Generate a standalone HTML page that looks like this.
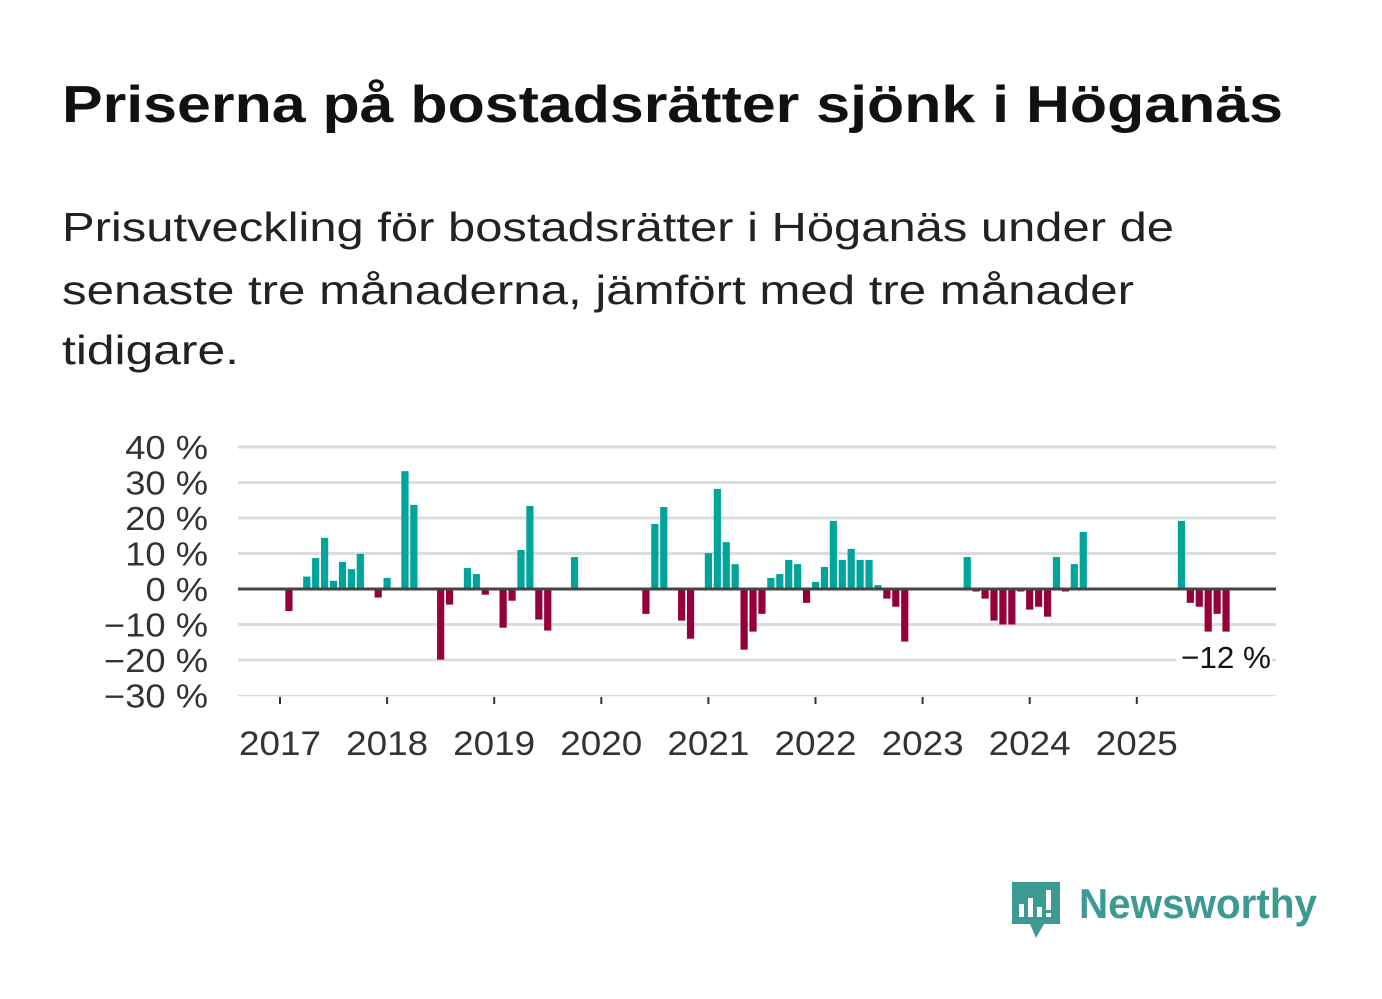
<!DOCTYPE html>
<html><head><meta charset="utf-8"><style>
html,body{margin:0;padding:0;background:#fff;}
svg{display:block;font-family:"Liberation Sans",sans-serif;}
</style></head><body>
<svg id="chart" width="1382" height="999" viewBox="0 0 1382 999" xmlns="http://www.w3.org/2000/svg">
<text x="62" y="122" font-size="52" font-weight="bold" fill="#111" textLength="1221" lengthAdjust="spacingAndGlyphs">Priserna på bostadsrätter sjönk i Höganäs</text>
<g font-size="41" fill="#222">
<text x="62" y="241" textLength="1112" lengthAdjust="spacingAndGlyphs">Prisutveckling för bostadsrätter i Höganäs under de</text>
<text x="62" y="304" textLength="1072" lengthAdjust="spacingAndGlyphs">senaste tre månaderna, jämfört med tre månader</text>
<text x="62" y="364" textLength="177" lengthAdjust="spacingAndGlyphs">tidigare.</text>
</g>
<g id="grid"></g><g id="bars"></g><g id="axes"></g>
<g>
<rect x="1176" y="642" width="96" height="32" fill="#fff"/>
<text x="1226" y="668" font-size="31" fill="#111" text-anchor="middle" textLength="90" lengthAdjust="spacingAndGlyphs">−12 %</text>
</g>
<g>
<path d="M1012 882 h48 v42 h-16 l-8 14 l-6 -14 h-18 z" fill="#3d9a93"/>
<rect x="1019" y="904" width="5" height="13" fill="#fff"/><rect x="1028" y="898" width="5" height="19" fill="#fff"/><rect x="1037" y="907" width="5" height="10" fill="#fff"/><rect x="1046" y="890" width="5" height="20" fill="#fff"/><rect x="1046" y="913" width="5" height="4" fill="#fff"/>
<text x="1079" y="918" font-size="42" font-weight="bold" fill="#3d9a93" textLength="238" lengthAdjust="spacingAndGlyphs">Newsworthy</text>
</g>
</svg>
<script>
const values = [null,-6.2,null,3.5,8.7,14.4,2.3,7.6,5.6,9.9,null,-2.4,3.1,null,33.2,23.7,null,null,-19.9,-4.4,null,5.9,4.2,-1.6,null,-10.9,-3.3,11.0,23.4,-8.6,-11.7,null,null,9.0,
null,null,null,null,null,null,null,-7.0,18.3,23.1,null,-8.9,-14.0,null,10.1,28.2,13.2,7.0,-17.1,-12.0,-7.0,3.1,4.2,8.2,7.0,-3.9,2.0,6.2,19.2,8.2,11.3,8.2,8.2,1.1,-2.7,-5.0,-14.8,
null,null,null,null,null,null,9.0,-0.7,-2.7,-8.9,-10.0,-10.0,-0.7,-5.8,-5.0,-7.8,9.0,-0.7,7.0,16.1,
null,null,null,null,null,null,null,null,null,null,19.2,-3.9,-5.0,-12.0,-7.0,-12.0];
const yTicks = [40,30,20,10,0,-10,-20,-30];
const yTickLabels = ["40 %","30 %","20 %","10 %","0 %","−10 %","−20 %","−30 %"];
const years = [2017,2018,2019,2020,2021,2022,2023,2024,2025];
const NS="http://www.w3.org/2000/svg";
const y = v => 589 - v*3.55;
const x = i => 280 + i*107.1/12;
function mk(tag, attrs, parent){const e=document.createElementNS(NS,tag);for(const k in attrs)e.setAttribute(k,attrs[k]);document.getElementById(parent).appendChild(e);return e;}
function widen(el,f){const w=el.getComputedTextLength();el.setAttribute('textLength',w*f);el.setAttribute('lengthAdjust','spacingAndGlyphs');}
yTicks.forEach((t,k)=>{
  if(t!==0){const g=mk('line',{x1:238,x2:1276,y1:y(t),y2:y(t),stroke:'#dcdcdc','stroke-width':t===-30?1.5:3},'grid');
  
  }
  const l=mk('text',{x:208,y:y(t)+12,'font-size':33,fill:'#333','text-anchor':'end'},'axes');
  l.textContent=yTickLabels[k];
  
  
  widen(l,1.1);
});
values.forEach((v,i)=>{
  if(v===null)return;
  const top=v>=0?y(v):y(0), h=Math.abs(y(v)-y(0));
  const r=mk('rect',{x:x(i)-3.6,y:top,width:7.2,height:h,fill:v>=0?'#00a49a':'#95003b'},'bars');
  
  
});
const z=mk('line',{x1:238,x2:1276,y1:y(0),y2:y(0),stroke:'#444','stroke-width':3},'axes');


years.forEach((yr,k)=>{
  const xx=x(k*12);
  const t=mk('line',{x1:xx,x2:xx,y1:697,y2:704,stroke:'#333','stroke-width':2},'axes');
  
  
  const l=mk('text',{x:xx-41,y:755,'font-size':34,fill:'#333',textLength:82,lengthAdjust:'spacingAndGlyphs'},'axes');
  l.textContent=yr;
  
  
});
</script>
</body></html>
